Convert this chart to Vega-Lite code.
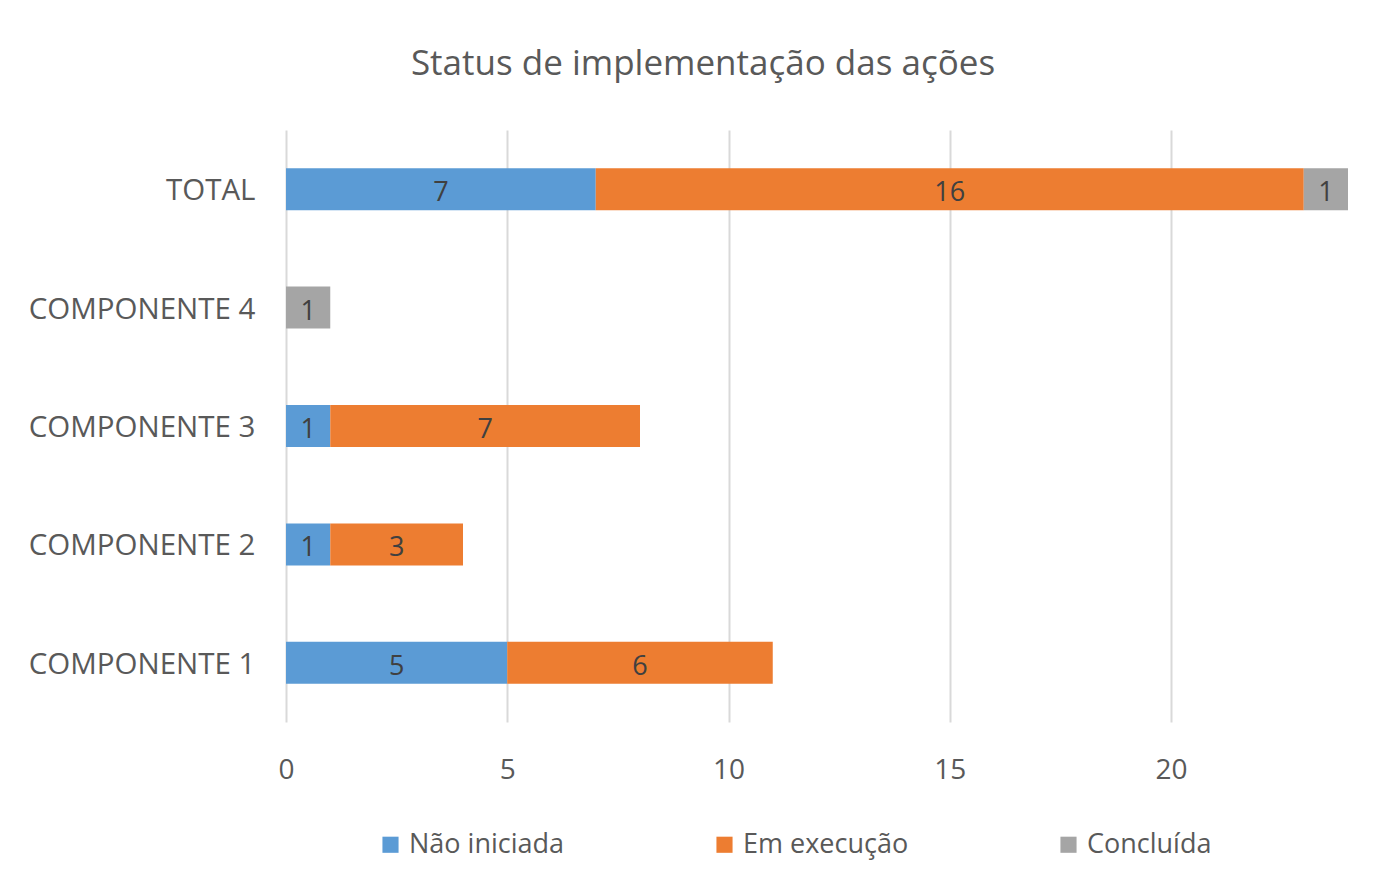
{
  "$schema": "https://vega.github.io/schema/vega-lite/v6.json",
  "autosize": {"type": "none"},
  "width": 1062,
  "height": 592,
  "padding": {"left": 286, "top": 130, "right": 33, "bottom": 164},
  "background": "white",
  "config": {"view": {"stroke": null}},
  "title": {
    "text": "Status de implementação das ações",
    "anchor": "middle",
    "dx": -114,
    "offset": 48,
    "fontSize": 35,
    "font": "Open Sans",
    "fontWeight": "normal",
    "color": "#595959"
  },
  "data": {
    "values": [
      {"componente": "TOTAL", "status": "Não iniciada", "valor": 7},
      {"componente": "TOTAL", "status": "Em execução", "valor": 16},
      {"componente": "TOTAL", "status": "Concluída", "valor": 1},
      {"componente": "COMPONENTE 4", "status": "Concluída", "valor": 1},
      {"componente": "COMPONENTE 3", "status": "Não iniciada", "valor": 1},
      {"componente": "COMPONENTE 3", "status": "Em execução", "valor": 7},
      {"componente": "COMPONENTE 2", "status": "Não iniciada", "valor": 1},
      {"componente": "COMPONENTE 2", "status": "Em execução", "valor": 3},
      {"componente": "COMPONENTE 1", "status": "Não iniciada", "valor": 5},
      {"componente": "COMPONENTE 1", "status": "Em execução", "valor": 6}
    ]
  },
  "transform": [
    {"stack": "valor", "groupby": ["componente"], "sort": [{"field": "status", "order": "descending"}], "as": ["v0", "v1"]},
    {"calculate": "(datum.v0 + datum.v1) / 2", "as": "meio"}
  ],
  "encoding": {
    "y": {
      "field": "componente",
      "type": "nominal",
      "sort": ["TOTAL", "COMPONENTE 4", "COMPONENTE 3", "COMPONENTE 2", "COMPONENTE 1"],
      "scale": {"paddingInner": 0.645, "paddingOuter": 0.3225},
      "axis": {
        "title": null,
        "domain": false,
        "ticks": false,
        "labelPadding": 31,
        "labelOffset": 2,
        "labelLimit": 400,
        "labelFontSize": 29.5,
        "labelFont": "Open Sans",
        "labelColor": "#595959"
      }
    }
  },
  "layer": [
    {
      "mark": {"type": "bar"},
      "encoding": {
        "x": {
          "field": "v0",
          "type": "quantitative",
          "scale": {"domain": [0, 24], "nice": false},
          "axis": {
            "title": null,
            "values": [0, 5, 10, 15, 20],
            "domain": false,
            "ticks": false,
            "grid": true,
            "gridColor": "#D9D9D9",
            "gridWidth": 2,
            "labelFlush": false,
            "labelPadding": 34,
            "labelFontSize": 28,
            "labelFont": "Open Sans",
            "labelColor": "#595959"
          }
        },
        "x2": {"field": "v1"},
        "color": {
          "field": "status",
          "type": "nominal",
          "scale": {"domain": ["Não iniciada", "Em execução", "Concluída"], "range": ["#5B9BD5", "#ED7D31", "#A5A5A5"]},
          "legend": {
            "title": null,
            "orient": "none",
            "direction": "horizontal",
            "legendX": 91,
            "legendY": 701,
            "symbolType": "square",
            "symbolSize": 260,
            "symbolStrokeWidth": 0,
            "symbolOpacity": 1,
            "labelFontSize": 27,
            "labelFont": "Open Sans",
            "labelColor": "#595959",
            "labelLimit": 400,
            "labelOffset": 5,
            "columnPadding": 146
          }
        }
      }
    },
    {
      "mark": {"type": "text", "fontSize": 27, "font": "Open Sans", "color": "#404040", "dy": 4},
      "encoding": {
        "x": {"field": "meio", "type": "quantitative"},
        "text": {"field": "valor", "type": "quantitative"}
      }
    }
  ]
}
